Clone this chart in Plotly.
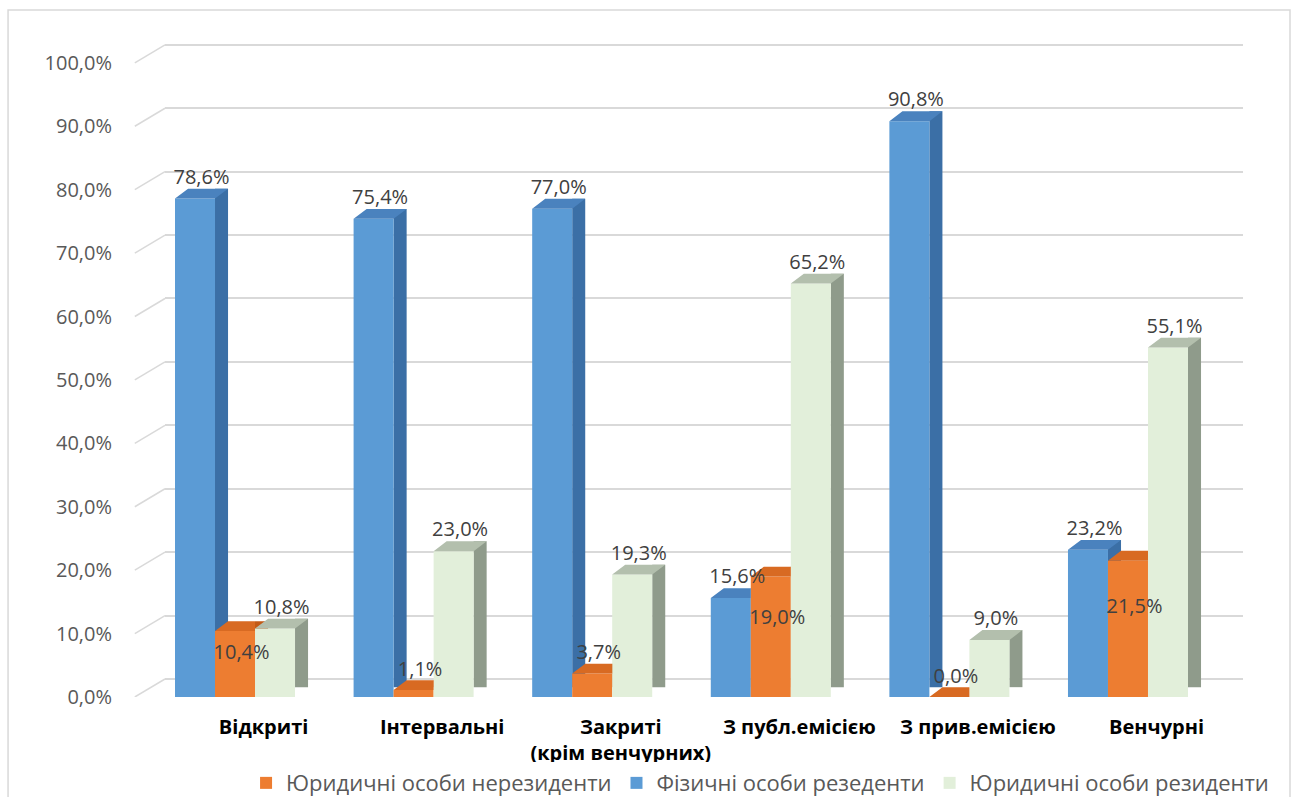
import plotly.graph_objects as go

# ---------------- data ----------------
categories = ["Відкриті", "Інтервальні", "Закриті<br>(крім венчурних)",
              "З публ.емісією", "З прив.емісією", "Венчурні"]
fiz_rez = [78.6, 75.4, 77.0, 15.6, 90.8, 23.2]      # Фізичні особи резеденти
yur_nerez = [10.4, 1.1, 3.7, 19.0, 0.0, 21.5]      # Юридичні особи нерезиденти
yur_rez = [10.8, 23.0, 19.3, 65.2, 9.0, 55.1]      # Юридичні особи резиденти
y_ticks = [0, 10, 20, 30, 40, 50, 60, 70, 80, 90, 100]

# ---------------- geometry / style ----------------
W = 0.224      # bar front width (category units)
DX = 0.073     # 3D depth, horizontal
DY = 1.55      # 3D depth, vertical (% units)
WALL = 2.84    # back-wall offset (% units)
idx = list(range(len(categories)))

series = [
    dict(name="Фізичні особи резеденти", vals=fiz_rez, off=-0.336, rank=2,
         front="#5B9BD5", side="#3B6FA6", top="#4A82BE"),
    dict(name="Юридичні особи нерезиденти", vals=yur_nerez, off=-0.112, rank=1,
         front="#ED7D31", side="#C25A17", top="#D86A22"),
    dict(name="Юридичні особи резиденти", vals=yur_rez, off=0.112, rank=3,
         front="#E2EFDA", side="#8F9B8B", top="#B3BFAD"),
]

FONT = "Open Sans"
fig = go.Figure()

for si, s in enumerate(series):
    # side faces
    fig.add_trace(go.Bar(x=idx, y=s["vals"], base=DY, offset=s["off"] + W, width=DX,
                         marker=dict(color=s["side"], line=dict(width=0)),
                         showlegend=False, hoverinfo="skip"))
    # front faces
    fig.add_trace(go.Bar(x=idx, y=s["vals"], offset=s["off"], width=W, name=s["name"],
                         legendrank=s["rank"],
                         marker=dict(color=s["front"], line=dict(width=0))))

# top faces (drawn above bars)
for si, s in enumerate(series):
    nxt = series[si + 1]["vals"] if si + 1 < len(series) else None
    px, py = [], []
    for i, v in enumerate(s["vals"]):
        x0 = i + s["off"]
        if nxt is not None and nxt[i] > v:
            px += [x0, x0 + W, x0 + W, x0 + DX, x0, None]
        else:
            px += [x0, x0 + W, x0 + W + DX, x0 + DX, x0, None]
        py += [v, v, v + DY, v + DY, v, None]
    fig.add_trace(go.Scatter(x=px, y=py, mode="lines", fill="toself",
                             fillcolor=s["top"], line=dict(width=0, color=s["top"]),
                             showlegend=False, hoverinfo="skip"))

def fmt(v):
    return f"{v:.1f}".replace(".", ",") + "%"

# data labels
lab_font = dict(family=FONT, size=20, color="#404040")
for si, s in enumerate(series):
    xs = [i + s["off"] + W / 2 + DX / 2 for i in idx]
    if si == 1:
        # small bars: label above; larger bars: label inside the bar
        ys = [v + DY + 1.5 if v < 5 else v * 0.65 for v in s["vals"]]
        pos = "middle center"
    else:
        ys = [v + DY for v in s["vals"]]
        pos = "top center"
    fig.add_trace(go.Scatter(x=xs, y=ys, mode="text", text=[fmt(v) for v in s["vals"]],
                             textposition=pos, textfont=lab_font,
                             showlegend=False, hoverinfo="skip"))

# invisible trace to activate the back-wall grid axis
fig.add_trace(go.Scatter(x=[None], y=[None], yaxis="y2", mode="markers",
                         showlegend=False, hoverinfo="skip"))

# diagonal stubs from tick labels to back wall
shapes = []
for t in y_ticks:
    shapes.append(dict(type="line", xref="paper", yref="y", x0=-0.028, x1=0,
                       y0=t, y1=t + WALL, line=dict(color="#D9D9D9", width=1.5)))
# chart border
shapes.append(dict(type="rect", xref="paper", yref="paper", x0=-0.1456, x1=1.0436,
                   y0=-0.2, y1=1.0457, line=dict(color="#D9D9D9", width=1.5),
                   fillcolor="rgba(0,0,0,0)", layer="below"))

fig.update_layout(
    width=1298, height=797,
    margin=dict(l=165, r=55, t=40, b=100, autoexpand=False),
    paper_bgcolor="white", plot_bgcolor="white",
    barmode="overlay",
    separators=", ",
    showlegend=True,
    legend=dict(orientation="h", x=0.552, xanchor="center", y=-0.131, yanchor="middle",
                font=dict(family=FONT, size=22, color="#595959"),
                itemwidth=30, traceorder="normal"),
    xaxis=dict(range=[-0.392, 5.644], tickmode="array",
               tickvals=[i + 0.16 for i in idx], ticktext=categories,
               tickfont=dict(family=FONT, size=20, color="#000000", weight=700),
               showgrid=False, zeroline=False, showline=False, ticks="",
               ticklabelstandoff=16, automargin=False),
    yaxis=dict(range=[0, 103.6], tickmode="array", tickvals=y_ticks,
               ticktext=[fmt(t) for t in y_ticks],
               tickfont=dict(family=FONT, size=20, color="#595959"),
               showgrid=False, zeroline=False, showline=False, ticks="",
               ticklabelstandoff=52, automargin=False),
    yaxis2=dict(overlaying="y", range=[-WALL, 103.6 - WALL], tickmode="array",
                tickvals=y_ticks, showticklabels=False, showgrid=True,
                gridcolor="#D9D9D9", gridwidth=2, zeroline=False, showline=False),
    shapes=shapes,
)

fig.write_html("out.html")
